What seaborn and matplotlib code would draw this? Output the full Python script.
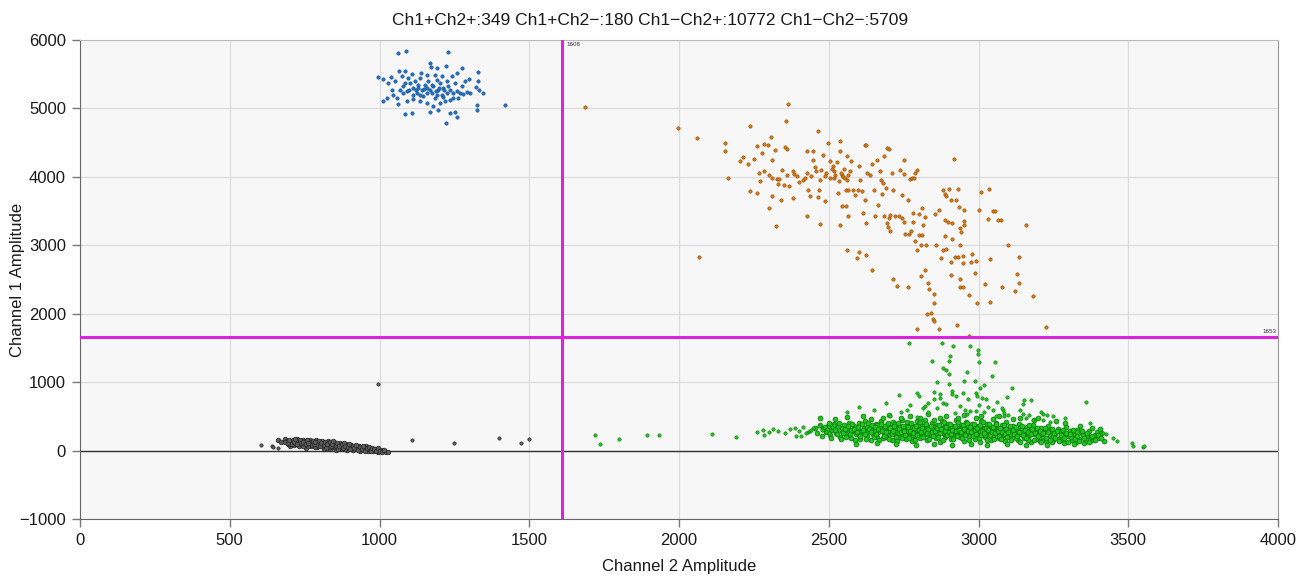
import numpy as np
import pandas as pd
import matplotlib
matplotlib.use('Agg')
import matplotlib.pyplot as plt
import seaborn as sns

# Droplet amplitudes (Channel 2, Channel 1)
ch1pos_ch2neg = [
    (1061, 5810), (1087, 5844), (1228, 5825), (995, 5464), (1011, 5425), (1037, 5460),
    (1066, 5552), (1085, 5542), (1107, 5503), (1139, 5518), (1169, 5664), (1172, 5601),
    (1191, 5591), (1221, 5615), (1274, 5586), (1328, 5533), (1299, 5435), (1330, 5406),
    (1321, 5309), (1333, 5265), (1344, 5226), (1419, 5046), (1326, 5055), (1326, 4982),
    (1222, 4788), (1085, 4924), (1107, 4934), (1169, 4943), (1195, 4982), (1235, 4934),
    (1252, 4953), (1258, 4875), (1011, 5114), (1024, 5148), (1063, 5065), (1046, 5201),
    (1068, 5274), (1080, 5323), (1091, 5250), (1102, 5372), (1113, 5299), (1124, 5226),
    (1130, 5348), (1141, 5274), (1146, 5177), (1158, 5299), (1163, 5396), (1174, 5226),
    (1180, 5323), (1185, 5153), (1196, 5274), (1202, 5372), (1208, 5201), (1213, 5299),
    (1219, 5104), (1224, 5226), (1235, 5274), (1247, 5226), (1258, 5250), (1269, 5226),
    (1280, 5216), (1291, 5236), (1235, 5128), (1202, 5080), (1180, 5031), (1158, 5080),
    (1135, 5104), (1113, 5138), (1091, 5104), (1057, 5153), (1041, 5274), (1030, 5372),
    (1052, 5396), (1074, 5469), (1096, 5445), (1135, 5445), (1158, 5494), (1185, 5494),
    (1208, 5469), (1241, 5469), (1258, 5518), (1252, 5372), (1274, 5323), (1286, 5396),
    (1302, 5226), (1224, 5396), (1191, 5421), (1119, 5396), (1085, 5372), (1080, 5226),
    (1100, 5274), (1122, 5265), (1149, 5284), (1169, 5265), (1189, 5250), (1200, 5299),
    (1216, 5274), (1230, 5323), (1111, 5201), (1135, 5201), (1160, 5226), (1193, 5201),
    (1211, 5167), (1247, 5153), (1263, 5153), (1130, 5299), (1152, 5348), (1174, 5348),
]

ch1pos_ch2pos = [
    (1686, 5021), (1997, 4719), (2059, 4569), (2365, 5065), (2357, 4811), (2066, 2824),
    (2238, 4738), (2463, 4675), (2153, 4495), (2153, 4373), (2162, 3988), (2203, 4237),
    (2214, 4285), (2231, 4193), (2250, 4266), (2261, 4456), (2276, 4349), (2283, 4485),
    (2298, 4461), (2307, 4578), (2320, 4397), (2309, 4242), (2267, 4057), (2270, 3935),
    (2309, 3983), (2326, 3969), (2331, 3901), (2237, 3789), (2259, 3764), (2301, 3550),
    (2309, 3725), (2324, 3277), (2340, 3662), (2355, 4436), (2362, 4407), (2351, 3876),
    (2368, 3862), (2381, 3686), (2400, 3930), (2385, 4047), (2415, 3959), (2426, 4373),
    (2426, 4057), (2431, 3813), (2429, 3433), (2437, 3716), (2448, 4373), (2446, 4251),
    (2458, 4081), (2468, 3813), (2470, 3316), (2463, 3701), (2482, 4324), (2489, 4008),
    (2489, 3652), (2496, 4495), (2505, 4237), (2514, 4164), (2518, 4081), (2519, 3983),
    (2527, 4212), (2536, 4529), (2538, 4373), (2532, 3764), (2536, 3297), (2543, 4032),
    (2548, 3993), (2554, 3983), (2563, 4032), (2560, 4300), (2571, 4081), (2575, 4232),
    (2557, 3813), (2563, 3433), (2545, 3579), (2557, 3570), (2565, 3813), (2582, 3813),
    (2587, 3740), (2598, 3813), (2600, 4154), (2604, 3959), (2610, 3789), (2615, 3472),
    (2621, 4470), (2626, 4470), (2628, 4057), (2622, 3667), (2623, 3326), (2637, 4032),
    (2643, 4193), (2652, 3813), (2655, 3423), (2660, 4251), (2663, 3594), (2672, 4081),
    (2674, 3959), (2679, 3755), (2682, 3910), (2684, 4310), (2685, 3423), (2690, 3837),
    (2693, 4422), (2701, 4407), (2694, 3326), (2702, 3399), (2698, 3268), (2704, 3204),
    (2706, 3448), (2710, 4057), (2715, 3803), (2721, 3423), (2736, 3423), (2738, 4096),
    (2743, 3399), (2745, 3730), (2751, 3341), (2752, 4242), (2751, 4047), (2765, 3667),
    (2771, 3969), (2777, 3983), (2780, 3472), (2782, 3336), (2785, 3983), (2788, 4057),
    (2795, 4105), (2800, 3462), (2774, 3214), (2768, 3170), (2753, 3170), (2787, 3058),
    (2793, 2936), (2803, 3156), (2812, 3146), (2813, 3550), (2820, 3414), (2815, 3302),
    (2560, 2936), (2601, 2897), (2593, 2815), (2623, 2863), (2643, 2634), (2713, 2508),
    (2729, 2401), (2765, 2391), (2794, 1782), (2807, 3005), (2824, 3010), (2822, 2644),
    (2809, 2556), (2832, 2449), (2836, 2362), (2853, 2294), (2852, 2157), (2841, 2011),
    (2829, 1996), (2849, 1923), (2852, 1894), (2868, 1777), (2857, 3000), (2854, 3458),
    (2869, 3521), (2880, 3803), (2889, 3755), (2902, 3823), (2932, 3823), (2925, 3667),
    (2936, 3560), (2951, 3511), (2908, 3667), (2893, 3716), (2887, 3375), (2899, 3336),
    (2910, 3326), (2951, 3350), (2952, 3302), (2938, 3253), (2941, 3194), (2888, 3141),
    (2913, 3097), (2938, 3000), (2882, 2936), (2893, 2946), (2876, 2820), (2907, 2751),
    (2922, 2824), (2932, 2824), (2947, 2839), (2949, 2742), (2979, 2878), (2974, 2751),
    (2991, 2766), (2988, 2600), (2907, 2566), (2938, 2513), (2938, 2391), (2949, 2391),
    (2967, 2269), (2995, 2157), (2927, 1841), (2919, 4256), (3000, 3511), (3007, 3774),
    (3034, 3823), (3033, 3384), (3049, 3496), (3056, 3496), (3064, 3375), (3075, 3375),
    (3100, 3005), (3158, 3297), (3136, 2829), (3040, 2800), (3130, 2581), (3136, 2449),
    (3080, 2391), (3122, 2337), (3021, 2435), (3038, 2167), (3183, 2264), (3227, 1802),
    (2967, 1680), (2440, 4010), (2470, 3960), (2490, 4060), (2505, 3990), (2520, 4030),
    (2535, 3940), (2550, 4110), (2475, 4100), (2455, 4150), (2510, 4120), (2540, 4060),
    (2560, 3960), (2420, 3980), (2395, 4010), (2380, 4080), (2360, 4020), (2345, 4100),
    (2335, 3970), (2300, 4020), (2285, 4090),
]

# Ch1- Ch2+ : sparse droplets (left side, rain above and right tail)
ch1neg_ch2pos_sparse = [
    (1718, 229), (1737, 97), (1801, 170), (1892, 224), (1934, 224), (2109, 239),
    (2190, 200), (2262, 273), (2282, 307), (2284, 234), (2302, 273), (2315, 316),
    (2388, 336), (2391, 219), (2407, 219), (2432, 273), (2438, 292), (2449, 336),
    (2466, 355), (2477, 297), (2490, 273), (2502, 263), (2516, 380), (2535, 297),
    (2330, 290), (2355, 250), (2370, 320), (2400, 280), (2415, 340), (2425, 250),
    (2440, 300),
    (2768, 1573), (2879, 1573), (2914, 1525), (2970, 1525), (2998, 1476), (2998, 1417),
    (2905, 1378), (2844, 1305), (2900, 1305), (3002, 1296), (3056, 1296), (2883, 1208),
    (2892, 1174), (2903, 1120), (2963, 1150), (3044, 1086), (2863, 1003), (2900, 974),
    (2952, 1013), (2989, 1023), (3017, 955), (3005, 916), (2736, 809), (2796, 843),
    (2803, 794), (2852, 852), (2870, 828), (2911, 867), (2913, 828), (2948, 843),
    (2925, 794), (2991, 843), (2994, 794), (2966, 760), (3011, 770), (3025, 755),
    (3061, 711), (2853, 760), (2870, 770), (2891, 687), (2831, 697), (2816, 624),
    (2822, 658), (2761, 599), (2939, 648), (2955, 599), (2922, 550), (2972, 575),
    (2992, 585), (3033, 638), (3048, 599), (3083, 599), (2705, 512), (2794, 492),
    (3111, 915), (3096, 779), (3152, 745), (3148, 681), (3175, 735), (3078, 623),
    (3086, 550), (3086, 501), (3359, 711), (3209, 565), (3217, 535), (3228, 526),
    (3148, 535), (3183, 453), (3217, 453), (3372, 404), (3239, 419),
    (3417, 258), (3426, 248), (3450, 185), (3461, 136), (3512, 112), (3517, 63),
    (3548, 53), (3554, 63),
    (2560, 560), (2600, 640), (2650, 600), (2690, 700), (2740, 560), (2770, 660),
    (2830, 560), (2860, 620), (2880, 700), (2960, 540), (3000, 660), (3020, 560),
    (3060, 500), (3100, 520), (3140, 600), (3170, 520), (3250, 500), (3290, 480),
    (3160, 470),
]

# Ch1- Ch2+ : the dense band
ch1neg_ch2pos_band = [
    (2482, 312), (2490, 268), (2497, 355), (2505, 230), (2511, 301), (2518, 392),
    (2524, 262), (2531, 338), (2537, 205), (2544, 290), (2550, 371), (2556, 246),
    (2561, 322), (2567, 410), (2573, 188), (2579, 280), (2584, 352), (2590, 237),
    (2596, 305), (2601, 398), (2606, 170), (2612, 264), (2617, 331), (2622, 428),
    (2627, 214), (2632, 290), (2637, 362), (2642, 158), (2647, 248), (2652, 318),
    (2657, 395), (2661, 201), (2666, 276), (2671, 343), (2676, 432), (2680, 182),
    (2685, 256), (2689, 307), (2694, 378), (2698, 226), (2703, 290), (2707, 351),
    (2711, 148), (2716, 412), (2720, 240), (2724, 323), (2729, 270), (2733, 196),
    (2737, 365), (2741, 299), (2745, 444), (2749, 230), (2753, 338), (2757, 168),
    (2761, 281), (2765, 394), (2769, 251), (2773, 312), (2777, 137), (2781, 360),
    (2785, 215), (2789, 292), (2793, 425), (2797, 262), (2801, 330), (2805, 188),
    (2809, 381), (2813, 240), (2817, 305), (2821, 452), (2825, 273), (2829, 157),
    (2833, 348), (2837, 221), (2841, 290), (2845, 402), (2849, 255), (2853, 319),
    (2857, 178), (2861, 367), (2865, 236), (2869, 299), (2873, 132), (2877, 431),
    (2881, 268), (2885, 341), (2889, 205), (2893, 283), (2897, 389), (2901, 247),
    (2905, 313), (2909, 166), (2913, 356), (2917, 228), (2921, 296), (2925, 441),
    (2929, 260), (2933, 332), (2937, 192), (2941, 377), (2945, 243), (2949, 306),
    (2953, 143), (2957, 415), (2961, 274), (2965, 349), (2969, 212), (2973, 287),
    (2977, 395), (2981, 250), (2985, 320), (2989, 171), (2993, 363), (2997, 233),
    (3001, 300), (3005, 127), (3009, 426), (3013, 264), (3017, 337), (3021, 198),
    (3025, 279), (3029, 383), (3033, 241), (3037, 308), (3041, 158), (3045, 351),
    (3049, 219), (3053, 291), (3057, 404), (3061, 253), (3065, 325), (3069, 183),
    (3073, 270), (3077, 368), (3081, 232), (3085, 297), (3089, 140), (3093, 412),
    (3097, 259), (3101, 330), (3106, 202), (3111, 276), (3116, 359), (3121, 226),
    (3126, 290), (3131, 152), (3136, 385), (3141, 248), (3146, 312), (3151, 187),
    (3156, 268), (3161, 345), (3166, 214), (3171, 283), (3176, 121), (3181, 372),
    (3186, 237), (3191, 301), (3196, 170), (3202, 256), (3208, 330), (3214, 203),
    (3220, 274), (3226, 138), (3232, 352), (3238, 228), (3244, 291), (3250, 160),
    (3257, 247), (3264, 316), (3271, 188), (3278, 262), (3285, 110), (3292, 340),
    (3299, 214), (3306, 279), (3313, 152), (3321, 236), (3329, 298), (3337, 175),
    (3345, 250), (3353, 106), (3361, 218), (3370, 280), (3379, 160), (3388, 230),
    (3398, 190), (3408, 255), (3418, 140),
    (2762, 315), (2770, 270), (2778, 340), (2786, 250), (2794, 305), (2802, 280),
    (2810, 355), (2818, 262), (2826, 318), (2834, 285), (2842, 240), (2850, 345),
    (2858, 300), (2866, 268), (2874, 330), (2882, 250), (2890, 310), (2898, 275),
    (2906, 350), (2914, 262), (2922, 322), (2930, 288), (2938, 245), (2946, 340),
    (2954, 298), (2962, 266), (2970, 328), (2978, 254), (2986, 306), (2994, 282),
    (3002, 345), (3010, 258), (3018, 312), (3026, 276), (3034, 238), (3042, 330),
    (3050, 294), (3058, 262), (3066, 318), (3074, 248), (3082, 300), (2766, 293),
    (2781, 232), (2797, 368), (2813, 300), (2829, 236), (2845, 320), (2861, 258),
    (2877, 292), (2893, 232), (2909, 330), (2925, 268), (2941, 310), (2957, 240),
    (2973, 296), (2989, 352), (3005, 280), (3021, 232), (3037, 290), (3053, 340),
    (3069, 276), (3085, 226), (2545, 335), (2575, 300), (2602, 270), (2628, 340),
    (2655, 290), (2683, 335), (2710, 300), (2735, 255), (2600, 225), (2660, 380),
    (2690, 205), (2720, 385), (3110, 240), (3130, 320), (3150, 265), (3170, 230),
    (3190, 280), (3210, 240), (3230, 300), (3250, 220), (3270, 280), (3290, 245),
    (3310, 205), (3330, 265), (3350, 230), (3375, 200), (3395, 265), (3125, 180),
    (3165, 155), (3205, 145), (3245, 125), (3280, 165), (3325, 120), (3360, 150),
    (2455, 330), (2462, 250), (2470, 380), (2478, 215), (2486, 345), (2494, 295),
    (2502, 410), (2509, 180), (2515, 350), (2522, 300), (2529, 240), (2535, 410),
    (2541, 175), (2547, 260), (2553, 315), (2559, 200), (2565, 355), (2571, 240),
    (2577, 395), (2583, 310), (2589, 160), (2595, 275), (2599, 340), (2604, 210),
    (2610, 385), (2615, 300), (2620, 245), (2625, 175), (2630, 405), (2635, 320),
    (2640, 265), (2645, 380), (2650, 195), (2655, 340), (2659, 235), (2664, 310),
    (2669, 150), (2673, 395), (2678, 280), (2683, 220), (2688, 355), (2692, 265),
    (2697, 410), (2701, 175), (2706, 325), (2710, 245), (2715, 290), (2719, 360),
    (2723, 205), (2727, 140), (2732, 410), (2736, 320), (2740, 270), (2744, 185),
    (2748, 365), (2752, 290), (2756, 225), (2760, 420), (2764, 345), (2768, 185),
    (2772, 290), (2776, 400), (2780, 260), (2784, 325), (2788, 160), (2792, 355),
    (2796, 230), (2800, 295), (2804, 420), (2808, 265), (2812, 335), (2816, 195),
    (2820, 290), (2824, 385), (2828, 250), (2832, 310), (2836, 170), (2840, 355),
    (2844, 270), (2848, 215), (2852, 440), (2856, 290), (2860, 335), (2864, 200),
    (2868, 380), (2872, 255), (2876, 310), (2880, 160), (2884, 415), (2888, 285),
    (2892, 345), (2896, 225), (2900, 270), (2904, 395), (2908, 240), (2912, 305),
    (2916, 175), (2920, 360), (2924, 285), (2928, 215), (2932, 420), (2936, 300),
    (2940, 265), (2944, 185), (2948, 370), (2952, 320), (2956, 230), (2960, 410),
    (2964, 290), (2968, 160), (2972, 350), (2976, 270), (2980, 215), (2984, 390),
    (2988, 295), (2992, 245), (2996, 335), (3000, 180), (3004, 370), (3008, 230),
    (3012, 290), (3016, 420), (3020, 260), (3024, 335), (3028, 150), (3032, 300),
    (3036, 385), (3040, 225), (3044, 275), (3048, 345), (3052, 175), (3056, 250),
    (3060, 395), (3064, 290), (3068, 220), (3072, 335), (3076, 165), (3080, 270),
    (3084, 380), (3088, 240), (3092, 310), (3096, 200), (3100, 275), (3104, 365),
    (3109, 160), (3114, 300), (3119, 245), (3124, 340), (3129, 210), (3134, 275),
    (3139, 130), (3144, 355), (3149, 230), (3154, 300), (3159, 180), (3164, 270),
    (3169, 380), (3174, 245), (3179, 310), (3184, 150), (3189, 260), (3194, 335),
    (3199, 210), (3204, 290), (3209, 125), (3215, 260), (3221, 330), (3227, 185),
    (3233, 270), (3239, 150), (3245, 320), (3251, 250), (3257, 190), (3263, 280),
    (3269, 135), (3275, 230), (3281, 300), (3287, 185), (3293, 260), (3300, 120),
    (3307, 240), (3314, 300), (3321, 175), (3328, 220), (3336, 140), (3344, 280),
    (3352, 190), (3361, 255), (3370, 130), (3380, 210), (3390, 160), (3400, 230),
    (3410, 190),
    (2470, 470), (2520, 455), (2560, 490), (2590, 90), (2615, 505), (2640, 460),
    (2660, 110), (2680, 480), (2700, 520), (2725, 95), (2742, 470), (2770, 505),
    (2790, 80), (2805, 480), (2830, 530), (2850, 100), (2870, 470), (2890, 510),
    (2912, 85), (2930, 480), (2950, 520), (2975, 95), (2990, 470), (3010, 500),
    (3030, 80), (3050, 465), (3070, 505), (3095, 90), (3115, 455), (3140, 480),
    (3160, 85), (3185, 445), (3200, 470), (3230, 75), (3260, 430), (3290, 400),
    (3320, 90), (3340, 360), (3380, 330), (3405, 320),
]

ch1neg_ch2neg_sparse = [
    (603, 82), (640, 73), (643, 53), (662, 34), (996, 969), (1108, 150), (1250, 116),
    (1399, 180), (1472, 107), (1498, 170),
]

ch1neg_ch2neg_core = [
    (662, 160), (684, 170), (672, 118), (690, 140), (695, 95), (700, 60), (705, 125),
    (712, 150), (716, 88), (722, 110), (726, 170), (730, 65), (735, 135), (740, 100),
    (744, 155), (748, 75), (752, 120), (756, 40), (760, 142), (764, 95), (768, 160),
    (772, 60), (776, 115), (780, 130), (784, 80), (788, 150), (792, 45), (796, 105),
    (800, 125), (804, 70), (808, 140), (812, 90), (816, 30), (820, 115), (824, 60),
    (828, 135), (832, 85), (836, 20), (840, 105), (844, 50), (848, 120), (852, 75),
    (856, 10), (860, 95), (864, 40), (868, 110), (872, 65), (876, 25), (880, 85),
    (884, 50), (888, 100), (892, 15), (896, 70), (900, 40), (906, 85), (912, 5),
    (918, 55), (924, 30), (930, 70), (936, -5), (942, 45), (948, 20), (954, 60),
    (960, 0), (966, 35), (972, 15), (978, -10), (984, 30), (990, 10), (996, -20),
    (1004, 15), (1012, -5), (1022, -15), (1029, -25), (700, 100), (710, 110), (720, 90),
    (730, 120), (740, 80), (750, 100), (760, 70), (770, 95), (780, 105), (790, 70),
    (800, 90), (810, 60), (820, 85), (830, 100), (840, 70), (850, 50), (860, 70),
    (870, 45), (880, 60), (890, 35), (900, 60), (750, 140), (770, 130), (790, 120),
    (810, 110), (830, 55), (850, 95), (720, 140), (745, 60), (765, 120), (785, 55),
    (805, 100), (825, 110), (845, 80), (865, 85), (885, 30), (905, 30), (925, 50),
    (945, 30), (965, 20), (985, 5), (685, 130), (693, 110), (698, 150), (707, 90),
    (714, 130), (718, 165), (725, 95), (733, 150), (738, 115), (746, 130), (754, 90),
    (758, 155), (762, 110), (774, 75), (778, 145), (782, 95), (786, 125), (794, 85),
    (798, 140), (802, 60), (806, 115), (814, 75), (818, 130), (822, 40), (826, 95),
    (834, 120), (838, 65), (842, 90), (846, 135), (854, 60), (858, 110), (862, 25),
    (866, 60), (874, 95), (878, 40), (882, 110), (886, 70), (894, 55), (898, 90),
    (902, 20), (910, 70), (916, 40), (922, 80), (928, 15), (934, 55), (940, 30),
    (946, 65), (952, -10), (958, 40), (964, 55), (970, -5), (976, 40), (982, 20),
    (988, -10), (994, 35), (1000, 0), (1008, -15), (1016, 10),
]

threshold_ch2 = 1608
threshold_ch1 = 1653
counts = {'Ch1+Ch2+': 349, 'Ch1+Ch2\u2212': 180, 'Ch1\u2212Ch2+': 10772, 'Ch1\u2212Ch2\u2212': 5709}

BLACK = ('#5a5a5a', '#262626')
GREEN = ('#22c422', '#0b7a0b')
ORANGE = ('#d97a10', '#8a4a08')
BLUE = ('#2474c8', '#134a8a')

layers = [
    (ch1neg_ch2neg_core, BLACK, 11, 0.5),
    (ch1neg_ch2neg_sparse, BLACK, 6, 0.4),
    (ch1neg_ch2pos_band, GREEN, 12, 0.55),
    (ch1neg_ch2pos_sparse, GREEN, 6, 0.4),
    (ch1pos_ch2pos, ORANGE, 6, 0.4),
    (ch1pos_ch2neg, BLUE, 6, 0.4),
]

plt.rcParams['font.family'] = ['Liberation Sans', 'DejaVu Sans']

DPI = 100
f = plt.figure(figsize=(1301 / DPI, 576 / DPI), dpi=DPI)
ax = f.add_axes([80 / 1301, 1 - 519 / 576, 1198 / 1301, 479 / 576])
ax.set_facecolor('#f7f7f7')

for pts, (face, edge), size, lw in layers:
    df = pd.DataFrame(pts, columns=['ch2', 'ch1'])
    sns.scatterplot(data=df, x='ch2', y='ch1', color=face, edgecolor=edge,
                    linewidth=lw, s=size, ax=ax, zorder=3)

ax.axhline(0, color='#333333', linewidth=1, zorder=2)
ax.axvline(threshold_ch2, color='#dd22dd', linewidth=2.2, zorder=4)
ax.axhline(threshold_ch1, color='#dd22dd', linewidth=2.2, zorder=4)
ax.text(threshold_ch2 + 15, 5930, str(threshold_ch2), fontsize=4.5, color='#333333',
        ha='left', va='center', zorder=5)
ax.text(3995, threshold_ch1 + 90, str(threshold_ch1), fontsize=4.5, color='#333333',
        ha='right', va='center', zorder=5)

ax.set_xlim(0, 4000)
ax.set_ylim(-1000, 6000)
ax.set_xticks(np.arange(0, 4001, 500))
ax.set_yticks(np.arange(-1000, 6001, 1000))
ax.set_yticklabels([f'{v:d}'.replace('-', '\u2212') for v in range(-1000, 6001, 1000)])
ax.grid(True, color='#dcdcdc', linewidth=0.9)
ax.set_axisbelow(True)
ax.tick_params(direction='out', length=6, width=1, color='#777777',
               labelsize=12, labelcolor='#1a1a1a', pad=4)

ax.spines['left'].set_color('#666666')
ax.spines['bottom'].set_color('#666666')
ax.spines['top'].set_color('#bbbbbb')
ax.spines['right'].set_color('#999999')

ax.set_xlabel('Channel 2 Amplitude', fontsize=12, color='#1a1a1a', labelpad=8)
ax.set_ylabel('Channel 1 Amplitude', fontsize=12, color='#1a1a1a')
ax.yaxis.set_label_coords(-0.046, 0.5)
ax.set_title(' '.join(f'{k}:{v}' for k, v in counts.items()), fontsize=12.5,
             color='#1a1a1a', pad=11, x=(650.5 - 80) / 1198)

f.savefig('out.png', dpi=DPI)
plt.close(f)
